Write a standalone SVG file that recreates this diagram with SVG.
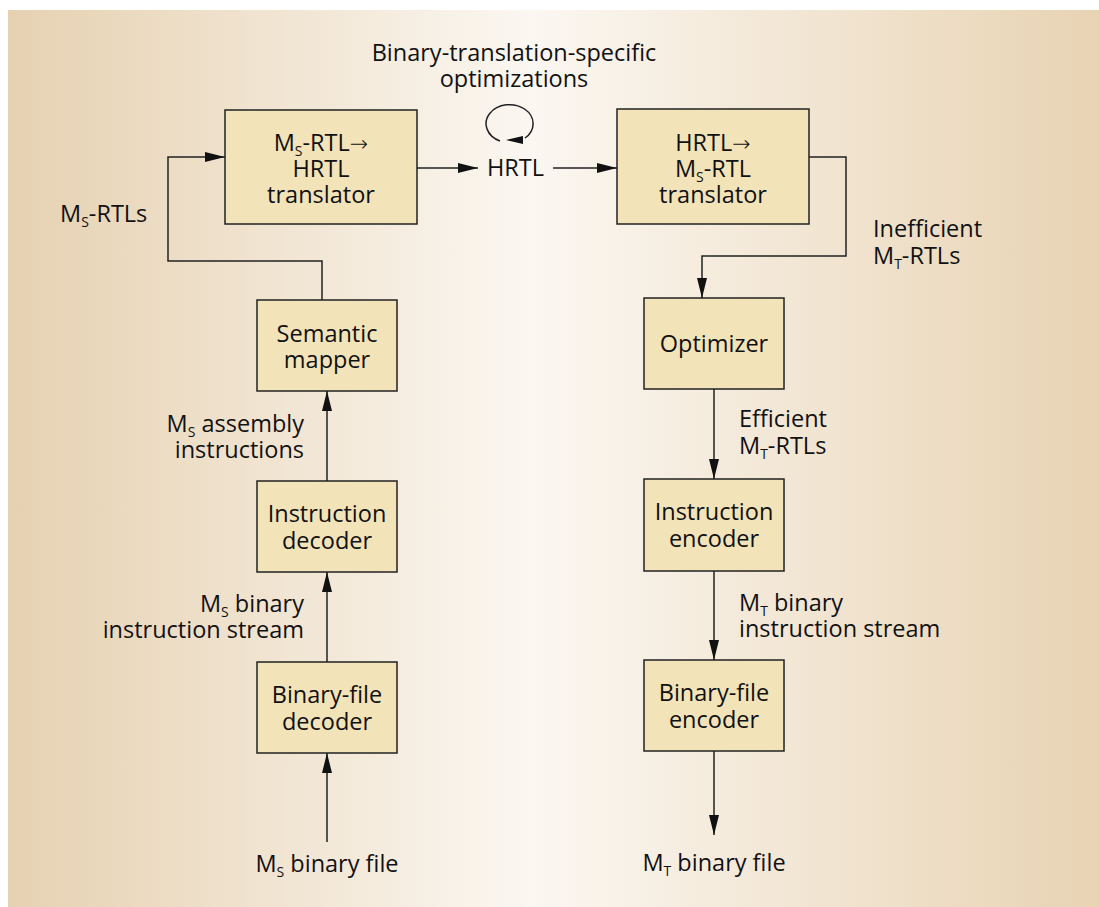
<svg xmlns="http://www.w3.org/2000/svg" width="1099" height="907" viewBox="0 0 1099 907">
<defs>
<linearGradient id="bg" x1="8" y1="0" x2="1099" y2="0" gradientUnits="userSpaceOnUse">
<stop offset="0" stop-color="#e6d1b1"/>
<stop offset="0.48" stop-color="#fbf7f1"/>
<stop offset="1" stop-color="#e8d3b3"/>
</linearGradient>
<marker id="ah" markerUnits="userSpaceOnUse" markerWidth="20" markerHeight="10" refX="20" refY="5" orient="auto">
<path d="M0,0 L20,5 L0,10 z" fill="#111"/>
</marker>
</defs>
<style>
.box{fill:#f3e3b9;stroke:#222;stroke-width:1.5}
.t{font-family:"Open Sans","Liberation Sans",sans-serif;font-size:23.5px;fill:#111}
.c{text-anchor:middle}
.r{text-anchor:end}
.sub{font-size:14px}
.arr{font-family:"DejaVu Sans",sans-serif;font-size:22px;font-weight:200}
.ln{fill:none;stroke:#222;stroke-width:1.5}
</style>
<rect x="8" y="10" width="1091" height="897" fill="url(#bg)"/>

<text class="t c" x="514" y="61">Binary-translation-specific</text>
<text class="t c" x="514" y="87">optimizations</text>
<text class="t" x="60" y="222">M<tspan class="sub" dy="5">S</tspan><tspan dy="-5">-RTLs</tspan></text>
<text class="t" x="487" y="176">HRTL</text>
<text class="t" x="873" y="237">Inefficient</text>
<text class="t" x="873" y="264">M<tspan class="sub" dy="5">T</tspan><tspan dy="-5">-RTLs</tspan></text>
<text class="t r" x="304" y="432">M<tspan class="sub" dy="5">S</tspan><tspan dy="-5"> assembly</tspan></text>
<text class="t r" x="304" y="458">instructions</text>
<text class="t r" x="304" y="612">M<tspan class="sub" dy="5">S</tspan><tspan dy="-5"> binary</tspan></text>
<text class="t r" x="304" y="638">instruction stream</text>
<text class="t c" x="327" y="872">M<tspan class="sub" dy="5">S</tspan><tspan dy="-5"> binary file</tspan></text>
<text class="t" x="739" y="427">Efficient</text>
<text class="t" x="739" y="454">M<tspan class="sub" dy="5">T</tspan><tspan dy="-5">-RTLs</tspan></text>
<text class="t" x="739" y="611">M<tspan class="sub" dy="5">T</tspan><tspan dy="-5"> binary</tspan></text>
<text class="t" x="739" y="637">instruction stream</text>
<text class="t c" x="714" y="871">M<tspan class="sub" dy="5">T</tspan><tspan dy="-5"> binary file</tspan></text>

<g id="connectors">
<path class="ln" d="M322,300 V261 H168 V157 H225" marker-end="url(#ah)"/>
<path class="ln" d="M417,168 H478" marker-end="url(#ah)"/>
<path class="ln" d="M553,168 H617" marker-end="url(#ah)"/>
<path class="ln" d="M809,157 H846 V256 H702 V298" marker-end="url(#ah)"/>
<path class="ln" d="M327,481 V391" marker-end="url(#ah)"/>
<path class="ln" d="M327,662 V572" marker-end="url(#ah)"/>
<path class="ln" d="M327,842 V753" marker-end="url(#ah)"/>
<path class="ln" d="M714,389 V479" marker-end="url(#ah)"/>
<path class="ln" d="M714,571 V660" marker-end="url(#ah)"/>
<path class="ln" d="M714,751 V835" marker-end="url(#ah)"/>
<path class="ln" d="M500,141 A23.5,19 0 1 1 525,138"/>
<path d="M506,140 L523,136 L523,144 z" fill="#111"/>
</g>

<g id="ms2hrtl">
<rect class="box" x="225" y="110" width="192" height="114"/>
<text class="t c" x="321" y="151">M<tspan class="sub" dy="5">S</tspan><tspan dy="-5">-RTL</tspan><tspan class="arr">→</tspan></text>
<text class="t c" x="321" y="177">HRTL</text>
<text class="t c" x="321" y="203">translator</text>
</g>
<g id="hrtl2ms">
<rect class="box" x="617" y="109" width="192" height="115"/>
<text class="t c" x="713" y="151">HRTL<tspan class="arr">→</tspan></text>
<text class="t c" x="713" y="177">M<tspan class="sub" dy="5">S</tspan><tspan dy="-5">-RTL</tspan></text>
<text class="t c" x="713" y="203">translator</text>
</g>
<g id="semantic">
<rect class="box" x="257" y="300" width="140" height="91"/>
<text class="t c" x="327" y="342">Semantic</text>
<text class="t c" x="327" y="368">mapper</text>
</g>
<g id="idecoder">
<rect class="box" x="257" y="481" width="140" height="91"/>
<text class="t c" x="327" y="522">Instruction</text>
<text class="t c" x="327" y="549">decoder</text>
</g>
<g id="bdecoder">
<rect class="box" x="257" y="662" width="140" height="91"/>
<text class="t c" x="327" y="703">Binary-file</text>
<text class="t c" x="327" y="730">decoder</text>
</g>
<g id="optimizer">
<rect class="box" x="644" y="298" width="140" height="91"/>
<text class="t c" x="714" y="352">Optimizer</text>
</g>
<g id="iencoder">
<rect class="box" x="644" y="479" width="140" height="92"/>
<text class="t c" x="714" y="520">Instruction</text>
<text class="t c" x="714" y="547">encoder</text>
</g>
<g id="bencoder">
<rect class="box" x="644" y="660" width="140" height="91"/>
<text class="t c" x="714" y="701">Binary-file</text>
<text class="t c" x="714" y="728">encoder</text>
</g>
</svg>
